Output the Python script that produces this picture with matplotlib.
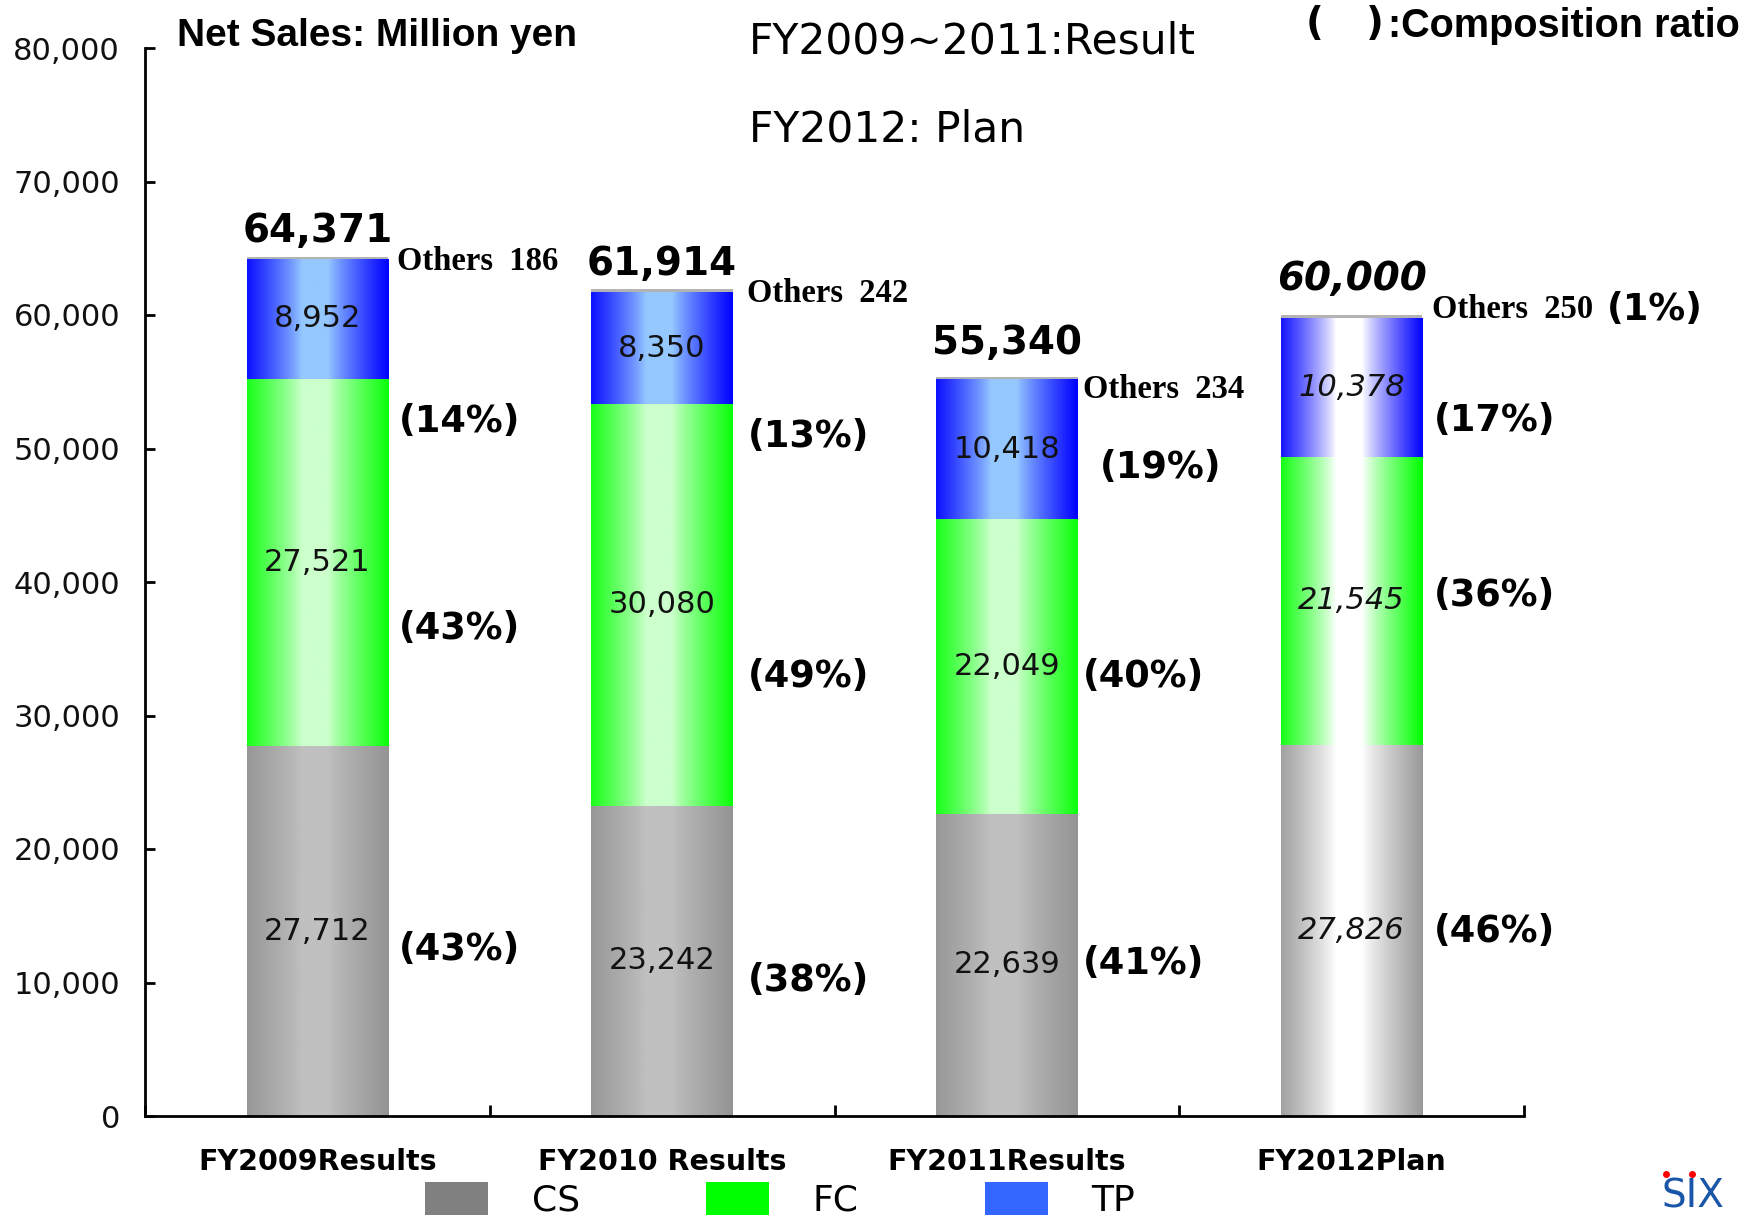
import numpy as np
import matplotlib
matplotlib.use("Agg")
import matplotlib.pyplot as plt
from matplotlib.patches import Patch
from matplotlib.colors import to_rgb
from matplotlib.ticker import FuncFormatter, FixedLocator

# ---- data -------------------------------------------------------------
categories = ["FY2009Results", "FY2010 Results", "FY2011Results", "FY2012Plan"]
cs = [27712, 23242, 22639, 27826]
fc = [27521, 30080, 22049, 21545]
tp = [8952, 8350, 10418, 10378]
others = [186, 242, 234, 250]
totals = [64371, 61914, 55340, 60000]
cs_pct = [43, 38, 41, 46]
fc_pct = [43, 49, 40, 36]
tp_pct = [14, 13, 19, 17]
others_pct = [None, None, None, 1]
is_plan = [False, False, False, True]
y_ticks = [0, 10000, 20000, 30000, 40000, 50000, 60000, 70000, 80000]

# ---- layout of the side labels (data units) ---------------------------
tp_pct_y = [52000, 50900, 48600, 52100]
fc_pct_y = [36500, 32900, 32900, 39000]
cs_pct_y = [12500, 10150, 11400, 13800]
tp_pct_dx = [0.235, 0.25, 0.27, 0.24]
fc_pct_dx = [0.235, 0.25, 0.22, 0.24]
cs_pct_dx = [0.235, 0.25, 0.22, 0.24]
others_y = [64000, 61600, 54400, 60400]
others_dx = [0.23, 0.245, 0.22, 0.234]
total_y = [66280, 63850, 57900, 62680]

W, H = 1753, 1218
fig = plt.figure(figsize=(W / 100, H / 100), dpi=100)
ax = fig.add_axes([145 / W, 1 - 1116 / H, (1524 - 145) / W, (1116 - 48) / H])

x = np.arange(len(categories))
bar_w = 0.41

edge_cs, edge_fc, edge_tp = "#949494", "#0aff0a", "#0000ff"
mid_cs, mid_fc, mid_tp = "#c0c0c0", "#ccffcc", "#95c8ff"
others_color = "#b3b3b3"


def gradient_fill(patch, edge, center, zorder=2):
    x0, y0 = patch.get_x(), patch.get_y()
    w, h = patch.get_width(), patch.get_height()
    xs = np.linspace(0, 1, 400)
    d = np.abs(xs - 0.48) / 0.52
    wgt = np.clip((d - 0.18) / 0.82, 0, 1) ** 0.85
    e = np.array(to_rgb(edge))
    c = np.array(to_rgb(center))
    rgb = c[None, :] * (1 - wgt[:, None]) + e[None, :] * wgt[:, None]
    ax.imshow(rgb[None, :, :], extent=(x0, x0 + w, y0, y0 + h),
              aspect="auto", interpolation="bilinear", zorder=zorder)


cs_bars = ax.bar(x, cs, width=bar_w, color="none", zorder=1)
fc_bars = ax.bar(x, fc, width=bar_w, bottom=cs, color="none", zorder=1)
bottom_tp = [a + b for a, b in zip(cs, fc)]
tp_bars = ax.bar(x, tp, width=bar_w, bottom=bottom_tp, color="none", zorder=1)
bottom_ot = [a + b for a, b in zip(bottom_tp, tp)]
ax.bar(x, others, width=bar_w, bottom=bottom_ot, color=others_color, zorder=2)

for i in range(len(categories)):
    plan = is_plan[i]
    gradient_fill(cs_bars[i], "#999999" if plan else edge_cs, "#ffffff" if plan else mid_cs)
    gradient_fill(fc_bars[i], "#00ff00" if plan else edge_fc, "#ffffff" if plan else mid_fc)
    gradient_fill(tp_bars[i], edge_tp, "#ffffff" if plan else mid_tp)

# ---- axes styling -----------------------------------------------------
ax.set_xlim(-0.5, len(categories) - 0.5)
ax.set_ylim(0, 80000)
for s in ["top", "right"]:
    ax.spines[s].set_visible(False)
for s in ["left", "bottom"]:
    ax.spines[s].set_linewidth(2.0)
    ax.spines[s].set_zorder(5)

ax.yaxis.set_major_locator(FixedLocator(y_ticks))
ax.yaxis.set_major_formatter(FuncFormatter(lambda v, p: f"{int(v):,}"))
ax.tick_params(axis="y", direction="in", length=7, width=2, pad=18,
               labelsize=22, labelcolor="#111111")
ax.set_xticks(x)
ax.set_xticklabels(categories, fontsize=20.5, fontweight="bold")
ax.tick_params(axis="x", which="major", length=0, pad=23)
ax.set_xticks(np.arange(-0.5, len(categories)), minor=True)
ax.tick_params(axis="x", which="minor", direction="in", length=8, width=2)

# ---- labels -----------------------------------------------------------
val_font = dict(fontsize=22, ha="center", va="center", color="#111111", zorder=6)
pct_font = dict(fontsize=26.5, fontweight="bold", ha="left", va="center", zorder=6)
oth_font = dict(family="Liberation Serif", fontsize=23.5, fontweight="bold",
                ha="left", va="center", zorder=6)

for i in range(len(categories)):
    style = "italic" if is_plan[i] else "normal"
    ax.text(x[i], cs[i] / 2, f"{cs[i]:,}", style=style, **val_font)
    ax.text(x[i], cs[i] + fc[i] / 2, f"{fc[i]:,}", style=style, **val_font)
    ax.text(x[i], bottom_tp[i] + tp[i] / 2, f"{tp[i]:,}", style=style, **val_font)

    ax.text(x[i] + cs_pct_dx[i], cs_pct_y[i], f"({cs_pct[i]}%)", **pct_font)
    ax.text(x[i] + fc_pct_dx[i], fc_pct_y[i], f"({fc_pct[i]}%)", **pct_font)
    ax.text(x[i] + tp_pct_dx[i], tp_pct_y[i], f"({tp_pct[i]}%)", **pct_font)

    t = ax.text(x[i] + others_dx[i], others_y[i], f"Others  {others[i]}", **oth_font)
    if others_pct[i] is not None:
        ax.annotate(f"({others_pct[i]}%)", xy=(1, 0.5), xycoords=t,
                    xytext=(10, 0), textcoords="offset points",
                    fontsize=26.5, fontweight="bold", ha="left", va="center")

    ax.text(x[i], total_y[i], f"{totals[i]:,}", family="DejaVu Sans",
            fontsize=28, fontweight="bold", style=style,
            ha="center", va="center", zorder=6)

# ---- titles and notes -------------------------------------------------
fig.text(177 / W, 1 - 36 / H, "Net Sales: Million yen", family="Liberation Sans",
         fontsize=28, fontweight="bold", ha="left", va="center")
fig.text(749 / W, 1 - 42 / H, "FY2009~2011:Result", fontsize=30.5,
         ha="left", va="center")
fig.text(749 / W, 1 - 129 / H, "FY2012: Plan", fontsize=30.5,
         ha="left", va="center")
fig.text(1306 / W, 1 - 24 / H, "(", fontsize=28, fontweight="bold",
         ha="left", va="center")
fig.text(1366 / W, 1 - 24 / H, ")", fontsize=28, fontweight="bold",
         ha="left", va="center")
fig.text(1388 / W, 1 - 26 / H, ":Composition ratio", family="Liberation Sans",
         fontsize=28.5, fontweight="bold", ha="left", va="center")

# ---- legend -----------------------------------------------------------
handles = [Patch(facecolor="#808080"), Patch(facecolor="#00ff00"),
           Patch(facecolor="#3366ff")]
fig.legend(handles, ["CS", "FC", "TP"], ncol=3, frameon=False,
           loc="center left", bbox_to_anchor=(425 / W, 1 - 1200 / H),
           fontsize=26, handlelength=1.75, handleheight=1.0,
           handletextpad=1.2, columnspacing=3.5, borderpad=0, borderaxespad=0)

# ---- corner logo ------------------------------------------------------
fig.text(1662 / W, 1 - 1215 / H, "SIX", fontsize=28, color="#1a56a8",
         ha="left", va="bottom")
fig.add_artist(plt.Line2D([1666 / W, 1692 / W], [1 - 1174 / H, 1 - 1174 / H],
                          transform=fig.transFigure, linestyle="none",
                          marker="o", markersize=4, color="#ff0000"))

fig.savefig("out.png", dpi=100, facecolor="white")
